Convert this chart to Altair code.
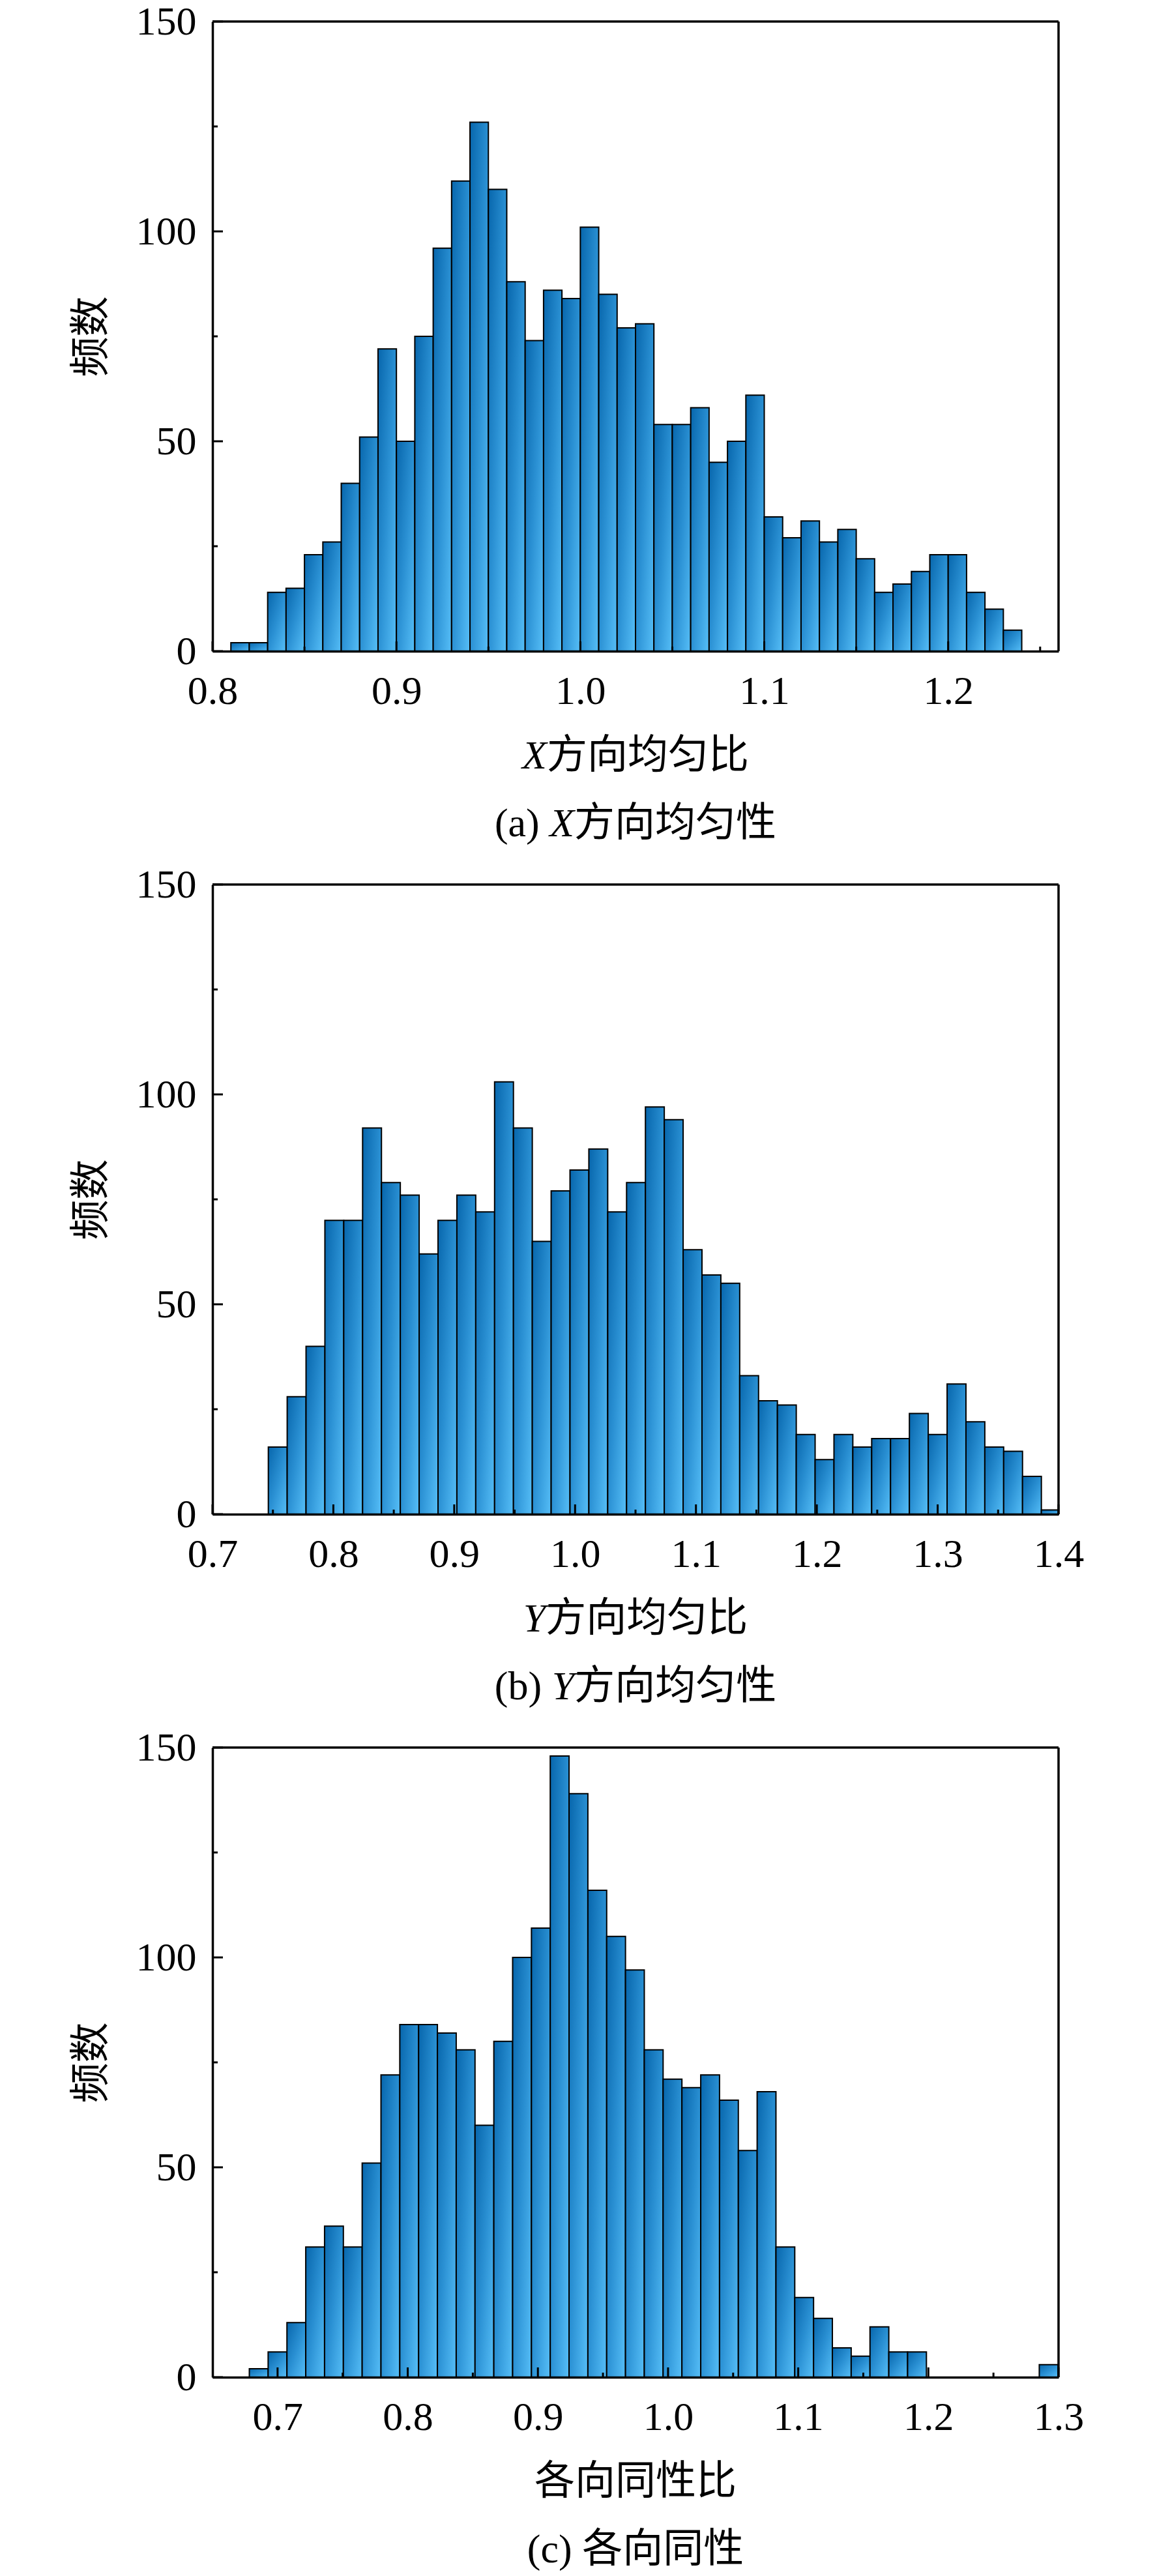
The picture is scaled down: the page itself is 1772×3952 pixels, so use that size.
import altair as alt
import pandas as pd

# ---------------- data ----------------
a_start, a_width = 0.81, 0.01
a_counts = [2, 2, 14, 15, 23, 26, 40, 51, 72, 50, 75, 96, 112, 126, 110, 88, 74, 86, 84,
            101, 85, 77, 78, 54, 54, 58, 45, 50, 61, 32, 27, 31, 26, 29, 22, 14, 16, 19,
            23, 23, 14, 10, 5]

b_start, b_width = 0.7462, 0.0156
b_counts = [16, 28, 40, 70, 70, 92, 79, 76, 62, 70, 76, 72, 103, 92, 65, 77, 82, 87, 72,
            79, 97, 94, 63, 57, 55, 33, 27, 26, 19, 13, 19, 16, 18, 18, 24, 19, 31, 22,
            16, 15, 9, 1]

c_start, c_width = 0.6783, 0.01445
c_counts = [2, 6, 13, 31, 36, 31, 51, 72, 84, 84, 82, 78, 60, 80, 100, 107, 148, 139, 116,
            105, 97, 78, 71, 69, 72, 66, 54, 68, 31, 19, 14, 7, 5, 12, 6, 6, 0, 0, 0, 0,
            0, 0, 3]

y_major = [0, 50, 100, 150]
y_minor = [25, 75, 125]

a_domain = [0.8, 1.26]
a_major = [0.8, 0.9, 1.0, 1.1, 1.2]
a_minor = [0.85, 0.95, 1.05, 1.15, 1.25]

b_domain = [0.7, 1.4]
b_major = [0.7, 0.8, 0.9, 1.0, 1.1, 1.2, 1.3, 1.4]
b_minor = [0.75, 0.85, 0.95, 1.05, 1.15, 1.25, 1.35]

c_domain = [0.65, 1.3]
c_major = [0.7, 0.8, 0.9, 1.0, 1.1, 1.2, 1.3]
c_minor = [0.75, 0.85, 0.95, 1.05, 1.15, 1.25]

y_title = "频数"

# ---------------- style ----------------
W, H = 1298, 966
SERIF = "Liberation Serif"
CJK = "Noto Sans CJK SC"
FS_TICK = 62
FS_TEXT = 62
FRAME = 3.5

grad = alt.LinearGradient(
    gradient="linear",
    stops=[alt.GradientStop(color="#0766AC", offset=0),
           alt.GradientStop(color="#2A90D3", offset=0.5),
           alt.GradientStop(color="#56BEF7", offset=1)],
    x1=0, y1=0, x2=1, y2=1,
)

one_row = pd.DataFrame({"k": [0]})


def text_layer(txt, px, py, font, style="normal", align="left"):
    return alt.Chart(pd.DataFrame({"t": [txt]})).mark_text(
        font=font, fontSize=FS_TEXT, fontStyle=style, align=align,
        baseline="middle", color="black"
    ).encode(x=alt.value(px), y=alt.value(py), text="t:N")


def panel(start, width, counts, xdom, xmaj, xmin, title_segs, cap_segs):
    rows = []
    for i, c in enumerate(counts):
        if c > 0:
            rows.append({"x0": start + i * width,
                         "x1": min(start + (i + 1) * width, xdom[1]),
                         "count": c})
    df = pd.DataFrame(rows)
    xs = alt.Scale(domain=xdom, nice=False, zero=False)
    ys = alt.Scale(domain=[0, 150], nice=False, zero=True)

    bars = alt.Chart(df).mark_rect(fill=grad, stroke="black", strokeWidth=2).encode(
        x=alt.X("x0:Q", scale=xs, axis=alt.Axis(
            values=xmaj, format=".1f", title=None, grid=False, ticks=False, tickSize=0,
            labelFont=SERIF, labelFontSize=FS_TICK, labelColor="black", labelPadding=31,
            labelFlush=False, domain=True, domainColor="black", domainWidth=FRAME,
            zindex=1)),
        x2="x1:Q",
        y=alt.Y("count:Q", scale=ys, axis=alt.Axis(
            values=y_major, title=y_title, grid=False, ticks=False, tickSize=0,
            labelFont=SERIF, labelFontSize=FS_TICK, labelColor="black", labelPadding=25,
            labelFlush=False, domain=True, domainColor="black", domainWidth=FRAME,
            titleFont=CJK, titleFontSize=FS_TEXT, titleFontWeight="normal",
            titleColor="black", titleX=-186, titleY=H / 2, titleAngle=270,
            titleAlign="center", titleBaseline="middle", zindex=1)),
        y2=alt.datum(0),
    )

    def yt(vals, ln):
        return alt.Chart(pd.DataFrame({"v": vals})).mark_rule(
            color="black", strokeWidth=3).encode(
            y=alt.Y("v:Q", scale=ys), x=alt.value(0), x2=alt.value(ln))

    def xt(vals, ln):
        return alt.Chart(pd.DataFrame({"v": vals})).mark_rule(
            color="black", strokeWidth=3).encode(
            x=alt.X("v:Q", scale=xs), y=alt.value(H), y2=alt.value(H - ln))

    top_edge = alt.Chart(one_row).mark_rule(color="black", strokeWidth=FRAME).encode(
        x=alt.value(0), x2=alt.value(W), y=alt.value(0))
    right_edge = alt.Chart(one_row).mark_rule(color="black", strokeWidth=FRAME).encode(
        x=alt.value(W), y=alt.value(0), y2=alt.value(H))

    layers = [bars, yt(y_major, 16), yt(y_minor, 8), xt(xmaj, 15), xt(xmin, 7),
              top_edge, right_edge]
    for txt, px, font, style in title_segs:
        layers.append(text_layer(txt, px, H + 161, font, style))
    for txt, px, font, style in cap_segs:
        layers.append(text_layer(txt, px, H + 265, font, style))
    return alt.layer(*layers).properties(width=W, height=H)


cx = W / 2
fs = FS_TEXT
# segment layouts (estimated glyph widths)
wX = 0.611 * fs
wY = 0.556 * fs
wa = 1.36 * fs
wb = 1.42 * fs
wc = 1.36 * fs

ta0 = cx - (wX + 5 * fs) / 2
pa = panel(a_start, a_width, a_counts, a_domain, a_major, a_minor,
           [("X", ta0, SERIF, "italic"), ("方向均匀比", ta0 + wX, CJK, "normal")],
           [("(a) ", cx - (wa + wX + 5 * fs) / 2, SERIF, "normal"),
            ("X", cx - (wa + wX + 5 * fs) / 2 + wa, SERIF, "italic"),
            ("方向均匀性", cx - (wa + wX + 5 * fs) / 2 + wa + wX, CJK, "normal")])

tb0 = cx - (wY + 5 * fs) / 2
pb = panel(b_start, b_width, b_counts, b_domain, b_major, b_minor,
           [("Y", tb0, SERIF, "italic"), ("方向均匀比", tb0 + wY, CJK, "normal")],
           [("(b) ", cx - (wb + wY + 5 * fs) / 2, SERIF, "normal"),
            ("Y", cx - (wb + wY + 5 * fs) / 2 + wb, SERIF, "italic"),
            ("方向均匀性", cx - (wb + wY + 5 * fs) / 2 + wb + wY, CJK, "normal")])

pc = panel(c_start, c_width, c_counts, c_domain, c_major, c_minor,
           [("各向同性比", cx - 5 * fs / 2, CJK, "normal")],
           [("(c) ", cx - (wc + 4 * fs) / 2, SERIF, "normal"),
            ("各向同性", cx - (wc + 4 * fs) / 2 + wc, CJK, "normal")])

chart = alt.vconcat(pa, pb, pc, spacing=358, bounds="flush").properties(
    padding={"left": 100, "top": -7, "right": 5, "bottom": 0}
).configure_view(strokeWidth=0).configure(background="white")

chart.save("out.html", embed_options={"renderer": "svg", "actions": False})
